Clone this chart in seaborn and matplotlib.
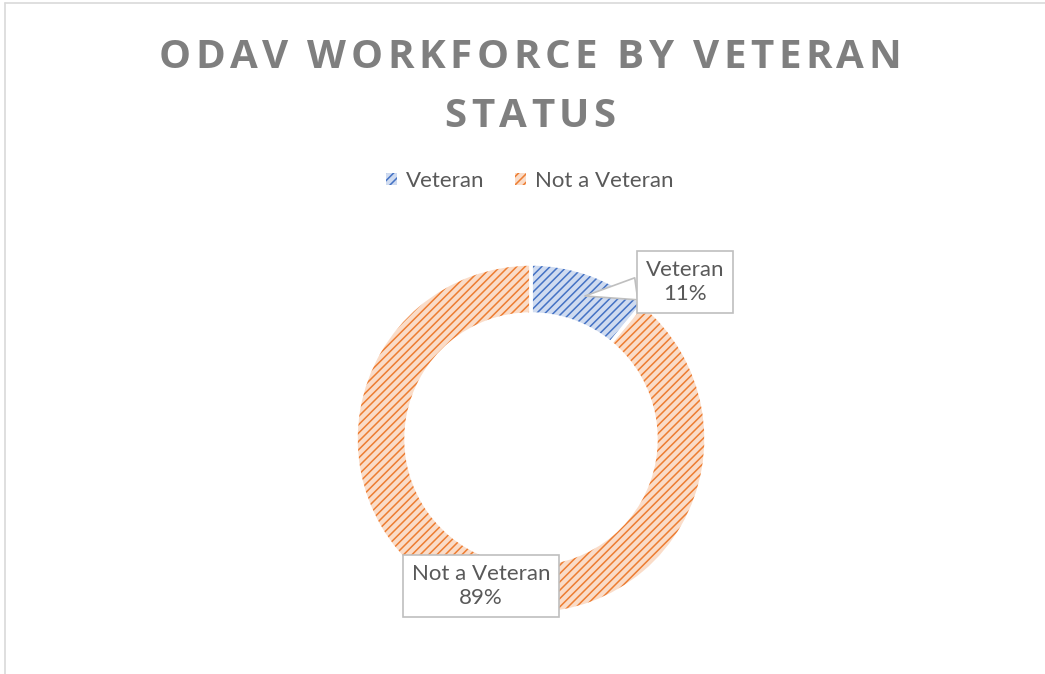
import matplotlib
matplotlib.use("Agg")
import matplotlib.pyplot as plt
import seaborn as sns
from matplotlib.patches import Patch
from matplotlib.lines import Line2D

categories = ["Veteran", "Not a Veteran"]
shares = [11, 89]
label_texts = ["Veteran\n11%", "Not a Veteran\n89%"]
title_lines = ["ODAV WORKFORCE BY VETERAN", "STATUS"]

sns.set_theme(style="white")
plt.rcParams["font.family"] = ["Lato", "DejaVu Sans"]

W, H = 1045, 674
fig = plt.figure(figsize=(W / 100, H / 100), dpi=100)
fig.patch.set_facecolor("white")
fig.lines.append(Line2D([4.5 / W, 4.5 / W], [0, 1 - 2.5 / H], transform=fig.transFigure,
                        color="#d9d9d9", lw=1.2))
fig.lines.append(Line2D([4.5 / W, 1], [1 - 2.5 / H, 1 - 2.5 / H], transform=fig.transFigure,
                        color="#d9d9d9", lw=1.2))

ax = fig.add_axes([0, 0, 1, 1])
dark = ["#4472C4", "#ED7D31"]
light = ["#cfdbf0", "#fadcc8"]

cx, cy, R = 531, H - 439, 175
plt.rcParams["hatch.linewidth"] = 1.1
wedges, _ = ax.pie(shares, startangle=90, counterclock=False, center=(cx, cy), radius=R,
                   colors=light, wedgeprops=dict(width=50, linewidth=0), frame=True)
for w, c in zip(wedges, dark):
    w.set_hatch("////")
    w.set_edgecolor(c)
ax.pie(shares, startangle=90, counterclock=False, center=(cx, cy), radius=R,
       colors=["none", "none"], wedgeprops=dict(width=50, linewidth=2.5, edgecolor="white"),
       frame=True)
ax.set_xlim(0, W)
ax.set_ylim(0, H)
ax.set_axis_off()

box = dict(boxstyle="square,pad=0.4", fc="white", ec="#bfbfbf", lw=1.2)
ax.annotate(label_texts[0], xy=(585, H - 296), xytext=(685, H - 282), ha="center", va="center",
            fontsize=16, color="#595959", bbox=box, linespacing=1.3,
            arrowprops=dict(arrowstyle="wedge,tail_width=1.0,shrink_factor=0.5", fc="white",
                            ec="#bfbfbf", lw=1.2, shrinkA=0, shrinkB=0))
ax.text(481, H - 586, label_texts[1], ha="center", va="center", fontsize=16, color="#595959",
        bbox=box, linespacing=1.3)

# letter-spaced title
renderer = fig.canvas.get_renderer()
title_kw = dict(fontsize=29, fontweight="bold", color="#7f7f7f",
                family=["Open Sans", "DejaVu Sans"], va="baseline", ha="left")
spacing = 4.5
baselines = [H - 68, H - 127]
for line, yb in zip(title_lines, baselines):
    chars = []
    widths = []
    for ch in line:
        t = fig.text(0, yb / H, ch, **title_kw)
        chars.append(t)
        if ch == " ":
            widths.append(t.get_window_extent(renderer).width)
        else:
            widths.append(t.get_window_extent(renderer).width)
    total = sum(widths) + spacing * (len(chars) - 1)
    x = 530 - total / 2
    for t, wd in zip(chars, widths):
        t.set_x(x / W)
        x += wd + spacing

handles = [Patch(facecolor=light[i], edgecolor=dark[i], hatch="////", lw=0) for i in range(2)]
leg = fig.legend(handles, categories, loc="center", bbox_to_anchor=(0.507, 1 - 181 / H), ncol=2,
                 frameon=False, fontsize=16, handlelength=0.5, handleheight=0.5,
                 handletextpad=0.4, columnspacing=1.4)
for t in leg.get_texts():
    t.set_color("#595959")

fig.savefig("out.png", dpi=100)
